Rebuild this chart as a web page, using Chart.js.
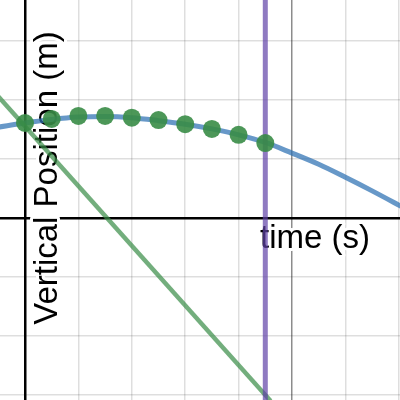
<!DOCTYPE html>
<html>
<head>
<meta charset="utf-8">
<script src="https://cdn.jsdelivr.net/npm/chart.js@4/dist/chart.umd.min.js"></script>
<style>
  html, body { margin: 0; padding: 0; background: #fff; }
  #wrap { width: 400px; height: 400px; }
</style>
</head>
<body>
<div id="wrap"><canvas id="myChartPos" width="400" height="400"></canvas></div>
<script>
// measured samples (time in s, height in m)
const sampleTimes = [0, 0.5, 1, 1.5, 2, 2.5, 3, 3.5, 4, 4.5];
const sampleHeights = [1.61, 1.68, 1.73, 1.73, 1.70, 1.66, 1.59, 1.51, 1.41, 1.27];

// fitted curve
const curveTimes = [-0.5, 0, 0.5, 1, 1.5, 2, 2.5, 3, 3.5, 4, 4.5, 5, 5.5, 6, 6.5, 7.1];
const curveHeights = [1.54, 1.61, 1.67, 1.71, 1.72, 1.70, 1.65, 1.59, 1.51, 1.41, 1.28, 1.10, 0.91, 0.69, 0.46, 0.17];

// tangent line and the time marker
const tangentTimes = [-0.5, 4.6];
const tangentHeights = [2.06, -3.1];
const markerTimes = [4.5, 4.5];
const markerHeights = [-4, 4];

// grid lines
const xGrid = [0, 1, 2, 3, 4, 5, 6, 7];
const yGrid = [-3, -2, -1, 0, 1, 2, 3];

const xLabel = 'time (s)';
const yLabel = 'Vertical Position (m)';

const toPts = (xs, ys) => xs.map((x, i) => ({ x: x, y: ys[i] }));

const gridColor = (ctx) => {
  const v = ctx.tick ? ctx.tick.value : null;
  if (v === 0) return '#000';
  if (v === 5) return 'rgba(0,0,0,0.45)';
  return 'rgba(0,0,0,0.13)';
};
const gridWidth = (ctx) => (ctx.tick && ctx.tick.value === 0 ? 2.5 : 1.5);

const labelPlugin = {
  id: 'axisLabels',
  beforeDatasetsDraw(chart) {
    const c = chart.ctx;
    const xs = chart.scales.x, ys = chart.scales.y;
    c.save();
    c.font = '33px "Liberation Sans", Arial, sans-serif';
    c.textBaseline = 'alphabetic';
    c.textAlign = 'left';
    c.lineJoin = 'round';
    c.lineWidth = 6;
    c.strokeStyle = '#fff';
    c.fillStyle = '#000';
    // x label
    const tx = xs.getPixelForValue(4.4), ty = ys.getPixelForValue(-0.51);
    c.strokeText(xLabel, tx, ty);
    c.fillText(xLabel, tx, ty);
    // y label, rotated
    c.translate(xs.getPixelForValue(0.6), ys.getPixelForValue(-1.81));
    c.rotate(-Math.PI / 2);
    c.strokeText(yLabel, 0, 0);
    c.fillText(yLabel, 0, 0);
    c.restore();
  }
};

new Chart(document.getElementById('myChartPos').getContext('2d'), {
  type: 'scatter',
  data: {
    datasets: [
      {
        label: 'curve',
        data: toPts(curveTimes, curveHeights),
        showLine: true,
        borderColor: 'rgba(45,112,179,0.72)',
        borderWidth: 5,
        pointRadius: 0,
        cubicInterpolationMode: 'monotone',
        order: 4
      },
      {
        label: 'tangent',
        data: toPts(tangentTimes, tangentHeights),
        showLine: true,
        borderColor: 'rgba(56,140,70,0.7)',
        borderWidth: 4.5,
        pointRadius: 0,
        order: 3
      },
      {
        label: 'marker',
        data: toPts(markerTimes, markerHeights),
        showLine: true,
        borderColor: 'rgba(96,66,166,0.7)',
        borderWidth: 5,
        pointRadius: 0,
        order: 2
      },
      {
        label: 'samples',
        data: toPts(sampleTimes, sampleHeights),
        backgroundColor: 'rgba(56,140,70,0.9)',
        borderWidth: 0,
        pointRadius: 9,
        order: 1
      }
    ]
  },
  options: {
    responsive: false,
    animation: false,
    events: [],
    layout: { padding: 0, autoPadding: false },
    plugins: { legend: { display: false }, tooltip: { enabled: false } },
    scales: {
      x: {
        type: 'linear',
        min: -25 / 53.4,
        max: 375 / 53.4,
        afterBuildTicks: (s) => { s.ticks = xGrid.map(v => ({ value: v })); },
        ticks: { display: false },
        border: { display: false },
        grid: { drawTicks: false, color: gridColor, lineWidth: gridWidth }
      },
      y: {
        type: 'linear',
        min: -182 / 59,
        max: 218 / 59,
        afterBuildTicks: (s) => { s.ticks = yGrid.map(v => ({ value: v })); },
        ticks: { display: false },
        border: { display: false },
        grid: { drawTicks: false, color: gridColor, lineWidth: gridWidth }
      }
    }
  },
  plugins: [labelPlugin]
});
</script>
</body>
</html>
